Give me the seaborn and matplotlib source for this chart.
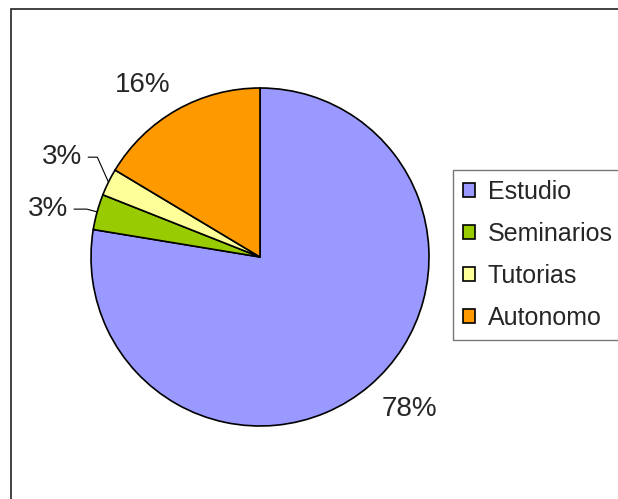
import matplotlib
matplotlib.use("Agg")
import matplotlib.pyplot as plt
import numpy as np
import seaborn as sns
from matplotlib.patches import Rectangle

# data
categories = ['Estudio', 'Seminarios', 'Tutorias', 'Autonomo']
shares = [77.6, 3.4, 2.6, 16.4]
colors = ['#9999FF', '#99CC00', '#FFFF99', '#FF9900']

# leader-line labels for the thin slices: (dx pt, dy pt, angleB)
leaders = {'Seminarios': (-21, 2, 165), 'Tutorias': (-19, 18, 114)}

sns.set_theme(style='white')
plt.rcParams['font.family'] = ['Liberation Sans', 'DejaVu Sans']

W, H = 618, 499
fig = plt.figure(figsize=(W / 100, H / 100), dpi=100)
fig.patch.set_facecolor('white')

# chart area border, runs off right and bottom like the source
fig.patches.append(Rectangle((11 / W, -0.05), 1.2, 1.05 - 9 / H, transform=fig.transFigure,
                             fill=False, edgecolor='#222222', linewidth=1.2))

cx, cy, r = 260, 257, 169
ax = fig.add_axes([(cx - r) / W, (H - cy - r) / H, 2 * r / W, 2 * r / H])
wedges, _ = ax.pie(shares, colors=colors, startangle=90, counterclock=False, radius=1,
                   wedgeprops=dict(edgecolor='black', linewidth=1.2))
ax.set_xlim(-1, 1)
ax.set_ylim(-1, 1)
ax.axis('off')

for w, cat, v in zip(wedges, categories, shares):
    mid = np.deg2rad((w.theta1 + w.theta2) / 2)
    x, y = np.cos(mid), np.sin(mid)
    txt = f'{v:.0f}%'
    if cat in leaders:
        dx, dy, angB = leaders[cat]
        ax.annotate(txt, xy=(x, y), xytext=(dx, dy), textcoords='offset points',
                    ha='right', va='center', fontsize=20,
                    arrowprops=dict(arrowstyle='-', color='black', lw=0.8,
                                    shrinkA=2, shrinkB=0, relpos=(1, 0.5),
                                    connectionstyle=f'angle,angleA=0,angleB={angB},rad=0'))
    else:
        ax.text(1.08 * x + (0.02 if x > 0 else 0), 1.08 * y, txt, fontsize=20,
                ha='left' if x > 0 else 'right', va='top' if y < 0 else 'bottom')

leg = fig.legend(wedges, categories, loc='upper left', bbox_to_anchor=(453 / W, 1 - 170 / H),
                 bbox_transform=fig.transFigure, borderaxespad=0, frameon=True, fancybox=False,
                 fontsize=18, handlelength=0.47, handleheight=0.47, handletextpad=0.52,
                 labelspacing=0.72, borderpad=0.4)
leg.get_frame().set_edgecolor('#555555')
leg.get_frame().set_linewidth(1.0)

fig.savefig('out.png', dpi=100, facecolor='white')
